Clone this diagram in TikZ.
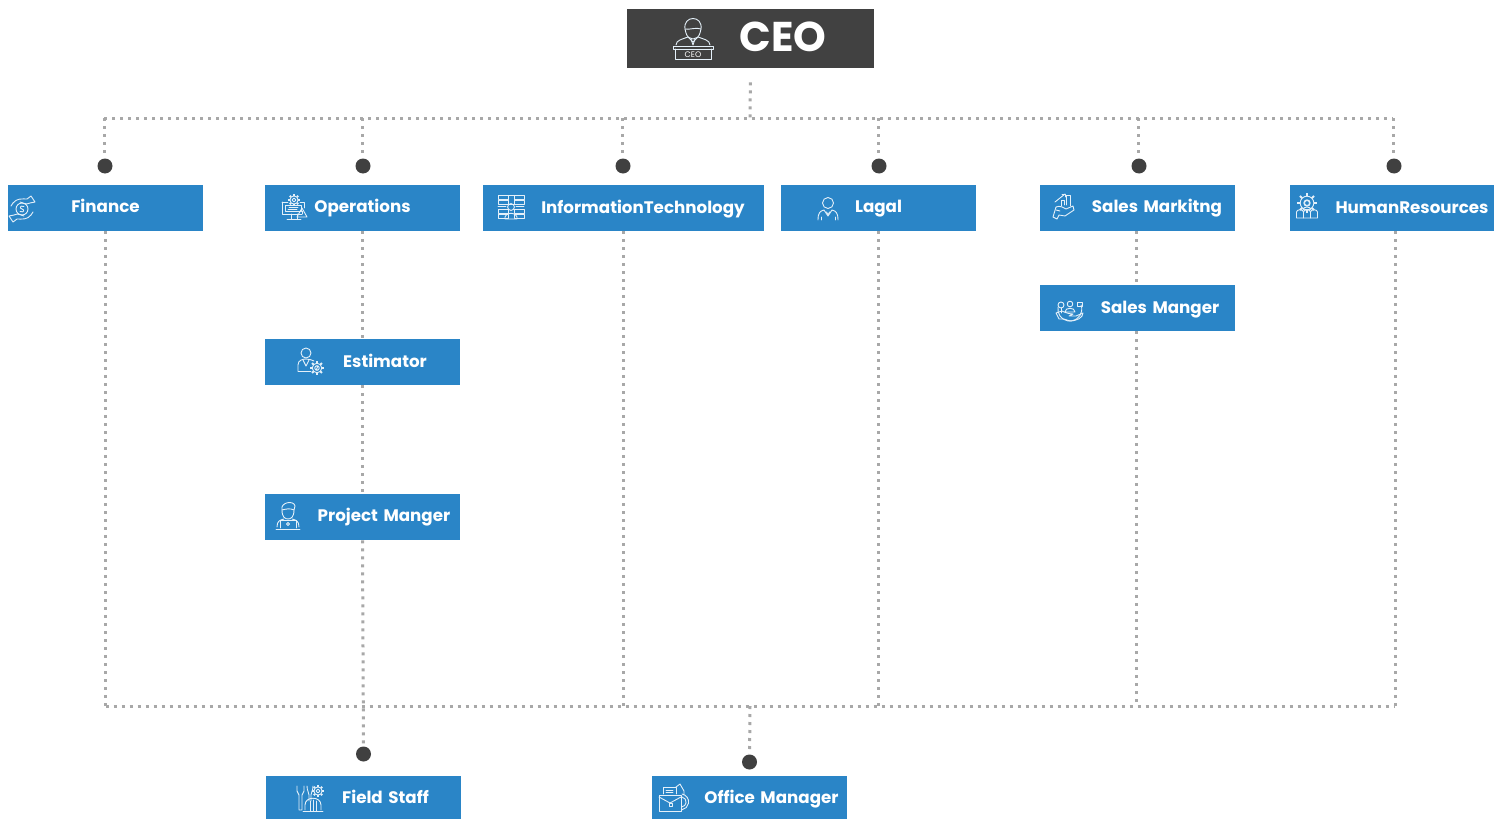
\documentclass[tikz,border=0pt]{standalone}
\usepackage{fontspec}
\setmainfont{Poppins}
\usetikzlibrary{calc}
\definecolor{boxblue}{HTML}{2A85C7}
\definecolor{ceogray}{HTML}{414141}
\definecolor{dotgray}{HTML}{404040}
\definecolor{linegray}{HTML}{A8A8A8}
\definecolor{iconline}{HTML}{E4F0F9}
\tikzset{
  x=0.5pt,y=-0.5pt,
  conn/.style={draw=linegray,line width=1.5pt,dash pattern=on 1.5pt off 2.5pt},
  bulb/.style={circle,fill=dotgray,draw=none,minimum size=7.5pt,inner sep=0pt},
  orgbox/.style={rectangle,fill=boxblue,draw=none,inner sep=0pt,text=white,align=center,font=\bfseries\fontsize{8.35}{10}\selectfont,text height=6pt,text depth=2pt},
  lower1/.style={text height=6.5pt,text depth=1.5pt},
  lower2/.style={text height=7pt,text depth=1pt},
  iconart/.style={draw=iconline,line width=0.45pt,line join=round,line cap=round,fill=none},
}
\newcommand{\orgnode}[7][0]{%
  \node[orgbox,minimum width=#4*0.5pt,minimum height=#5*0.5pt,text width=#4*0.5pt,#6] (#2) at (#3) {\hspace*{#1pt}\mbox{#7}};}
\newcommand{\placeicon}[3]{\begin{scope}[shift={(#2,#3)},iconart]#1\end{scope}}
\newcommand{\gearart}[3]{%
  \draw (#1,#2) circle ({#3*0.68});
  \draw (#1,#2) circle ({#3*0.32});
  \foreach \a in {0,45,...,315}{\draw[line width=0.9pt,line cap=butt] ($(#1,#2)+(\a:{#3*0.68})$) -- ($(#1,#2)+(\a:{#3})$);}}
\newcommand{\icCeo}{%
  \draw (-8,-9) .. controls (-10,-23) and (10,-23) .. (8,-9) -- (7,-5) .. controls (5,3) and (-5,3) .. (-7,-5) -- cycle;
  \draw (-8,-9) .. controls (-3,-8) and (3,-11) .. (8,-9);
  \draw (-17,7) .. controls (-17,2) and (-10,1) .. (-5,-1) -- (0,4) -- (5,-1) .. controls (10,1) and (17,2) .. (17,7);
  \draw (-2,1) -- (0,7) -- (2,1);
  \draw (-20,8) rectangle (20,11);
  \draw (-18,11) -- (-18,21) -- (18,21) -- (18,11);
  \node[inner sep=0pt,text=white,font=\fontsize{4}{4}\selectfont] (ceotag) at (0,16.5) {CEO};}
\newcommand{\icFinance}{%
  \draw (0,0) circle (6);
  \draw (2,-2.5) .. controls (-2.5,-4) and (-2.5,-0.5) .. (0,0) .. controls (2.5,0.5) and (2.5,4) .. (-2,2.5);
  \foreach \r in {0,180}{\begin{scope}[rotate=\r]
    \draw (-9,-6) .. controls (-5,-11) and (0,-10) .. (5,-10) -- (9,-13) -- (13,-7) -- (8,-6) .. controls (4,-4) and (1,-6) .. (-2,-7);
    \draw (-9,-6) -- (-11,-3) ;
  \end{scope}}}
\newcommand{\icOps}{%
  \draw (-12,-7) -- (-12,5) -- (8,5);
  \draw (-12,-7) -- (-6,-7);
  \draw (6,-7) -- (10,-7) -- (10,-1);
  \draw (-9,-4) rectangle (7,2);
  \gearart{0}{-9}{6}
  \draw (-5,-2) -- (4,-2); \draw (-6,0) -- (3,0);
  \draw (-3,5) -- (-3,10); \draw (3,5) -- (3,10); \draw (-7,10) -- (7,10);
  \draw (8,-1) -- (13,8) -- (3,8) -- cycle; \draw (8,2) -- (8,5);}
\newcommand{\icIT}{%
  \foreach \y in {-12,-7,2,7}{\draw (-13,\y) rectangle (-3,{\y+4}); \draw (3,\y) rectangle (13,{\y+4});}
  \draw (-3,-12) rectangle (3,-3);
  \draw (0,0) circle (3.4);
  \draw (-6,10) .. controls (-6,5) and (6,5) .. (6,10) -- (6,12) -- (-6,12) -- cycle;
  \draw (-13,-1) -- (-5,-1); \draw (5,-1) -- (13,-1);}
\newcommand{\icLegal}{%
  \draw (0,-6) circle (5.5);
  \draw (-10,11) .. controls (-10,4) and (-8,2) .. (-4,1) -- (0,7) -- (4,1) .. controls (8,2) and (10,4) .. (10,11);
  \draw (-1.5,3) -- (0,6) -- (1.5,3) ;
  \draw (-7,8) -- (-7,11); \draw (7,8) -- (7,11);}
\newcommand{\icSalesMk}{%
  \draw (-2,-1) -- (-2,-7) -- (1,-7) -- (1,-2);
  \draw (3,-2) -- (3,-12) -- (7,-12) -- (7,-1);
  \draw (-8,-5) -- (2,-13); \draw (-1,-13) -- (2,-13) -- (2,-10);
  \draw (-10,10) -- (-7,0) .. controls (-3,-2) and (1,1) .. (3,2) -- (10,-1) -- (11,3) -- (2,9) -- (-4,8) -- (-6,12) -- cycle;
  \draw (-7,3) -- (-3,4);}
\newcommand{\icHR}{%
  \gearart{0}{-4}{10}
  \draw (0,-4) circle (2.5);
  \draw (-4,3) .. controls (-4,-1) and (4,-1) .. (4,3);
  \foreach \x in {-7,0,7}{\draw (\x-3.5,11) -- (\x-3.5,5) .. controls (\x-3.5,2) and (\x+3.5,2) .. (\x+3.5,5) -- (\x+3.5,11) -- cycle;}}
\newcommand{\icSalesMg}{%
  \draw (-12,0) arc[start angle=190,end angle=-20,radius=12];
  \draw (0,-3) circle (2.8);
  \draw (-5,5) .. controls (-5,0) and (5,0) .. (5,5) -- cycle;
  \draw (-9,-2) circle (3); \draw (-9,1) -- (-9,6);
  \draw (7,-5) rectangle (12,-1);
  \draw (-14,6) -- (-8,4) .. controls (-4,6) and (0,7) .. (3,7) -- (-1,9) -- (6,9) -- (13,6) .. controls (13,11) and (6,14) .. (0,14) -- (-6,12) -- (-11,12) -- cycle;}
\newcommand{\icEst}{%
  \draw (-5,-8) circle (5);
  \draw (-13,10) -- (-13,4) .. controls (-13,-1) and (-8,-2) .. (-5,-2) .. controls (-2,-2) and (1,-1) .. (3,0);
  \draw (-13,10) -- (0,10);
  \draw (-8,-1) -- (-5,5) -- (-2,-1);
  \gearart{6}{7}{7}
  \draw (5,5) -- (7,5) -- (5,9) -- (7,9);}
\newcommand{\icProj}{%
  \draw (-6,-6) .. controls (-6,1) and (-3,3) .. (0,3) .. controls (3,3) and (6,1) .. (6,-6);
  \draw (-6,-6) .. controls (-8,-14) and (6,-16) .. (7,-10) -- (6,-6) .. controls (2,-8) and (-2,-7) .. (-6,-6);
  \draw (-11,11) .. controls (-11,5) and (-8,4) .. (-4,3);
  \draw (11,11) .. controls (11,5) and (8,4) .. (4,3);
  \draw (-8,12) -- (-8,4) -- (8,4) -- (8,12);
  \draw (0,8) circle (1.6);
  \draw (-12,13) -- (12,13);}
\newcommand{\icField}{%
  \draw (-13,-12) -- (-13,-7) .. controls (-13,-5) and (-11,-5) .. (-11,-3) -- (-11,12) -- (-8,12) -- (-8,-3) .. controls (-8,-5) and (-6,-5) .. (-6,-7) -- (-6,-12);
  \draw (-3,-12) .. controls (-3,-7) and (-1,-6) .. (-1,-3) -- (-1,3); \draw (3,-12) .. controls (3,-7) and (1,-6) .. (1,-3) -- (1,3);
  \gearart{8}{-7}{6}
  \draw (-5,12) -- (-5,7) .. controls (-5,-2) and (11,-2) .. (11,7) -- (11,12);
  \draw (-7,13) -- (13,13);
  \draw (0,13) -- (0,3); \draw (3,13) -- (3,2); \draw (6,13) -- (6,3);}
\newcommand{\icOffice}{%
  \draw (-10,-4) -- (-10,-11) -- (3,-11) -- (3,-4);
  \draw (3,-11) -- (7,-14) -- (11,-7) -- (11,-3);
  \draw (-7,-8) -- (0,-8); \draw (-7,-6) -- (0,-6);
  \draw (-14,-3) -- (-14,13) -- (8,13) -- (8,-3) -- cycle;
  \draw (-14,-1) -- (-3,5) -- (8,-1);
  \draw (-4,5) rectangle (-1,8);
  \draw (9,-4) arc[start angle=-80,end angle=80,radius=8] ;
  \draw (9,-1) arc[start angle=-80,end angle=80,radius=5] ;}
\begin{document}
\begin{tikzpicture}
\path[use as bounding box,fill=white] (0,0) rectangle (1506,819);
% nodes
\node[rectangle,fill=ceogray,draw=none,minimum width=123.5pt,minimum height=29.5pt,inner sep=0pt] (ceo) at (750.5,38.5) {};
\node[text=white,font=\bfseries\fontsize{20.8}{22}\selectfont,inner sep=0pt] (ceotext) at (783,37) {CEO};
\orgnode{finance}{105.5,208}{195}{46}{}{Finance}
\orgnode{ops}{362.5,208}{195}{46}{}{Operations}
\orgnode[19.5]{it}{623.5,208}{281}{46}{lower1}{InformationTechnology}
\orgnode{legal}{878.5,208}{195}{46}{}{Lagal}
\orgnode[19.5]{salesmk}{1137.5,208}{195}{46}{}{Sales Markitng}
\orgnode[20]{hr}{1392,208}{204}{46}{lower1}{HumanResources}
\orgnode[22.5]{salesmg}{1137.5,308}{195}{46}{lower1}{Sales Manger}
\orgnode[22.5]{est}{362.5,362}{195}{46}{lower1}{Estimator}
\orgnode[21.5]{proj}{362.5,517}{195}{46}{}{Project Manger}
\orgnode[22]{field}{363.5,797.5}{195}{43}{lower2}{Field Staff}
\orgnode[22]{office}{749.5,797.5}{195}{43}{lower2}{Office Manager}
\node[bulb] (d1) at (105,166) {};
\node[bulb] (d2) at (363,166) {};
\node[bulb] (d3) at (623,166) {};
\node[bulb] (d4) at (879,166) {};
\node[bulb] (d5) at (1139,166) {};
\node[bulb] (d6) at (1394,166) {};
\node[bulb] (d7) at (363.5,754) {};
\node[bulb] (d8) at (749.5,762) {};
% bus ends
\coordinate (tbus) at (750,118);
\coordinate (tl) at (104,118);
\coordinate (tr) at (1393,118);
\coordinate (bbus) at (750,706);
\coordinate (bl) at (105.5,706);
\coordinate (br) at (1395,706);
\coordinate (xS) at (1136.5,706);
% connectors
\draw[conn,shorten <=7pt] (ceo.south) -- (tbus);
\draw[conn] (tl) -- (tr);
\foreach \d/\x in {d1/104,d2/362,d3/622,d4/878,d5/1138,d6/1393}{\draw[conn] (\x,118) -- (\x,158);}
\draw[conn] (finance.south) -- (bl);
\draw[conn] (ops.south) -- (est.north);
\draw[conn] (est.south) -- (proj.north);
\draw[conn] (proj.south) -- (d7);
\draw[conn] (it.south) -- (it |- bbus);
\draw[conn] (legal.south) -- (legal |- bbus);
\draw[conn] (xS |- salesmk.south) -- (xS |- salesmg.north);
\draw[conn] (xS |- salesmg.south) -- (xS);
\draw[conn] (br |- hr.south) -- (br);
\draw[conn] (bl) -- (br);
\draw[conn] (bbus) -- (d8);
% icons
\placeicon{\icCeo}{693}{38}
\placeicon{\icFinance}{22}{209}
\placeicon{\icOps}{294}{209}
\placeicon{\icIT}{511}{207}
\placeicon{\icLegal}{828}{209}
\placeicon{\icSalesMk}{1063}{207}
\placeicon{\icHR}{1307}{207}
\placeicon{\icSalesMg}{1070}{307}
\placeicon{\icEst}{311}{361}
\placeicon{\icProj}{288}{516}
\placeicon{\icField}{310}{798}
\placeicon{\icOffice}{673}{798}
\end{tikzpicture}
\end{document}
